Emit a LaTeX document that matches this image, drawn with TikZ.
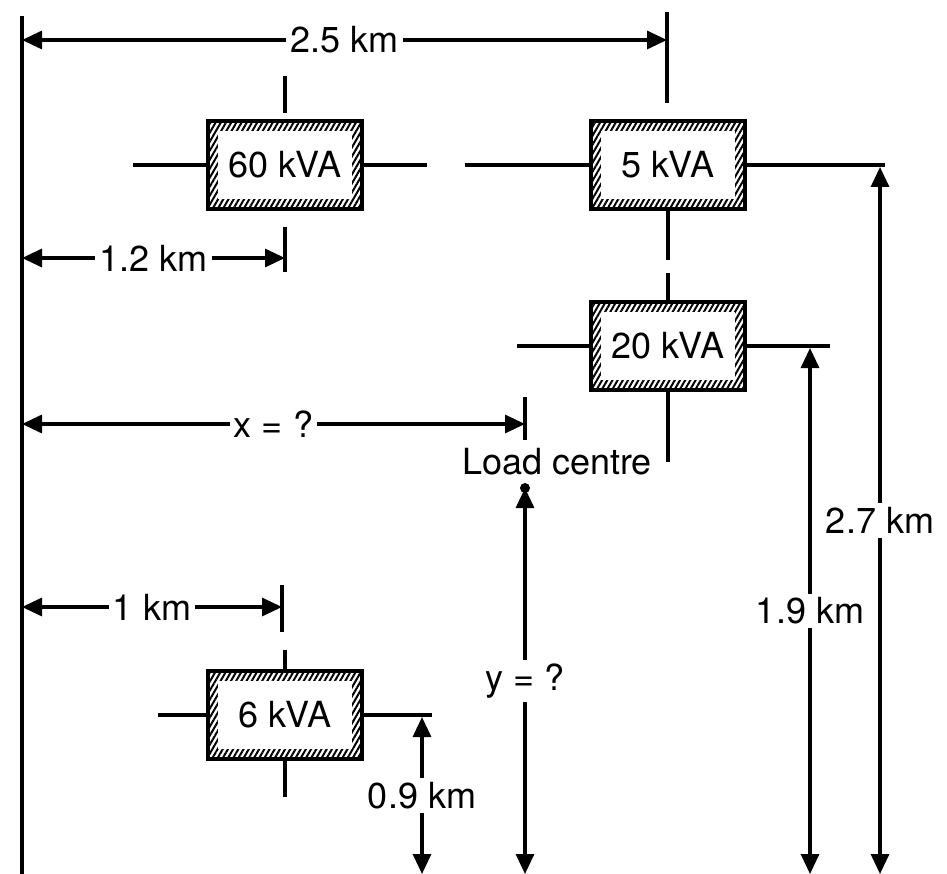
\documentclass[tikz,border=0pt]{standalone}
\usepackage{fontspec}
\setmainfont{TeX Gyre Heros}
\usetikzlibrary{arrows.meta, positioning, patterns.meta}
\tikzset{
    kva/.style={rectangle, draw=black, line width=3.4pt, minimum width=154pt, minimum height=88pt, inner sep=0pt, font=\fontsize{36}{40}\selectfont,
        path picture={
            \fill[pattern={Lines[angle=60, distance=4.5pt, line width=2pt]}] (path picture bounding box.south west) rectangle (path picture bounding box.north east);
            \fill[white] ([shift={(10pt,10pt)}]path picture bounding box.south west) rectangle ([shift={(-10pt,-10pt)}]path picture bounding box.north east);
        }},
    wire/.style={line width=3.2pt},
    dim/.style={{Triangle[length=20pt,width=18pt]}-{Triangle[length=20pt,width=18pt]}, line width=3.2pt},
    lbl/.style={fill=white, inner sep=4pt, font=\fontsize{36}{40}\selectfont}
}
\begin{document}
\begin{tikzpicture}[x=1pt, y=-1pt]
    \useasboundingbox (0,0) rectangle (947,874);
    % loads
    \node[kva] (kva60) at (285,165) {60 kVA};
    \node[kva] (kva5) at (668,165) {5 kVA};
    \node[kva] (kva20) at (668,346) {20 kVA};
    \node[kva] (kva6) at (285,715) {6 kVA};
    \node[font=\fontsize{36}{40}\selectfont, inner sep=0pt] (lctext) at (557,462) {Load centre};
    \fill (525,488) circle (5pt) coordinate (lc);
    % reference lines
    \coordinate (left top) at (22,16); \coordinate (left bot) at (22,874);
    \draw[wire] (left top) -- (left bot);
    \draw[wire] (133,165) -- (kva60.west);
    \draw[wire] (kva60.east) -- (427,165);
    \draw[wire] (465,165) -- (kva5.west);
    \draw[wire] (kva5.east) -- (885,165);
    \draw[wire] (285,76) -- (285,113);
    \draw[wire] (285,227) -- (285,272);
    \draw[wire] (667,12) -- (667,103);
    \draw[wire] (kva5.south) -- (668,260);
    \draw[wire] (668,273) -- (kva20.north);
    \draw[wire] (517,346) -- (kva20.west);
    \draw[wire] (kva20.east) -- (830,346);
    \draw[wire] (kva20.south) -- (668,462);
    \draw[wire] (525,397) -- (525,440);
    \draw[wire] (282,585) -- (282,632);
    \draw[wire] (285,650) -- (kva6.north);
    \draw[wire] (kva6.south) -- (285,797);
    \draw[wire] (158,715) -- (kva6.west);
    \draw[wire] (kva6.east) -- (432,715);
    % horizontal distances
    \draw[dim] (22,40) -- node[lbl] {2.5 km} (667,40);
    \draw[dim] (22,258) -- node[lbl] {1.2 km} (285,258);
    \draw[dim] (22,424) -- node[lbl] {x = ?} (525,424);
    \draw[dim] (22,607) -- node[lbl] {1 km} (282,607);
    % vertical distances
    \draw[dim] (422,874) -- node[lbl] {0.9 km} (422,717);
    \draw[dim] (525,874) -- node[lbl] {y = ?} (lc);
    \draw[dim] (810,874) -- node[lbl] {1.9 km} (810,348);
    \draw[dim] (880,874) -- node[lbl] {2.7 km} (880,167);
\end{tikzpicture}
\end{document}
